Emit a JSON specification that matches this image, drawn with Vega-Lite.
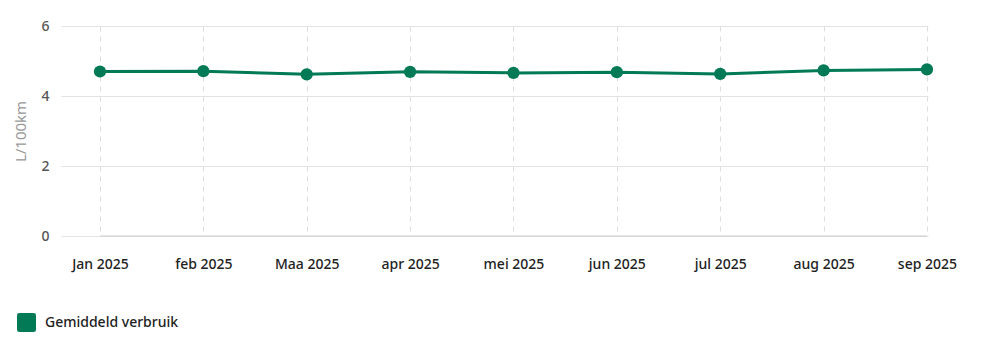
{
  "$schema": "https://vega.github.io/schema/vega-lite/v6.json",
  "width": 867,
  "height": 210,
  "autosize": {"type": "none"},
  "padding": {"left": 61, "top": 26, "right": 57, "bottom": 106},
  "background": "white",
  "config": {
    "view": {"stroke": null},
    "font": "Noto Sans"
  },
  "data": {
    "values": [
      {"i": 0, "maand": "Jan 2025", "verbruik": 4.70, "reeks": "Gemiddeld verbruik"},
      {"i": 1, "maand": "feb 2025", "verbruik": 4.71, "reeks": "Gemiddeld verbruik"},
      {"i": 2, "maand": "Maa 2025", "verbruik": 4.62, "reeks": "Gemiddeld verbruik"},
      {"i": 3, "maand": "apr 2025", "verbruik": 4.69, "reeks": "Gemiddeld verbruik"},
      {"i": 4, "maand": "mei 2025", "verbruik": 4.66, "reeks": "Gemiddeld verbruik"},
      {"i": 5, "maand": "jun 2025", "verbruik": 4.68, "reeks": "Gemiddeld verbruik"},
      {"i": 6, "maand": "jul 2025", "verbruik": 4.63, "reeks": "Gemiddeld verbruik"},
      {"i": 7, "maand": "aug 2025", "verbruik": 4.73, "reeks": "Gemiddeld verbruik"},
      {"i": 8, "maand": "sep 2025", "verbruik": 4.76, "reeks": "Gemiddeld verbruik"}
    ]
  },
  "encoding": {
    "x": {
      "field": "i",
      "type": "quantitative",
      "scale": {"domain": [-0.377, 8.01], "nice": false, "zero": false},
      "axis": {
        "title": null,
        "values": [0, 1, 2, 3, 4, 5, 6, 7, 8],
        "labelExpr": "['Jan 2025','feb 2025','Maa 2025','apr 2025','mei 2025','jun 2025','jul 2025','aug 2025','sep 2025'][datum.value]",
        "domain": false,
        "ticks": false,
        "grid": true,
        "gridColor": "#dddddd",
        "gridDash": [5, 5],
        "gridWidth": 1,
        "labelPadding": 21,
        "labelFontSize": 14,
        "labelFontWeight": 500,
        "labelColor": "#222222",
        "labelFlush": false,
        "labelOverlap": false
      }
    },
    "y": {
      "field": "verbruik",
      "type": "quantitative",
      "scale": {"domain": [0, 6], "nice": false},
      "axis": {
        "title": "L/100km",
        "titleColor": "#999999",
        "titleFontWeight": "normal",
        "titleFontSize": 15,
        "titlePadding": 12,
        "values": [0, 2, 4, 6],
        "domain": false,
        "ticks": false,
        "grid": true,
        "gridColor": "#e3e3e3",
        "gridWidth": 1,
        "labelPadding": 12,
        "labelFontSize": 14,
        "labelFontWeight": 500,
        "labelColor": "#555555"
      }
    },
    "color": {
      "field": "reeks",
      "type": "nominal",
      "scale": {"range": ["#017a55"]},
      "legend": {
        "title": null,
        "orient": "none",
        "legendX": -44,
        "legendY": 287,
        "padding": 0,
        "symbolType": "M-0.75,-1H0.75Q1,-1 1,-0.75V0.75Q1,1 0.75,1H-0.75Q-1,1 -1,0.75V-0.75Q-1,-1 -0.75,-1Z",
        "symbolSize": 361,
        "symbolStrokeWidth": 0,
        "symbolOpacity": 1,
        "labelFontSize": 14,
        "labelFontWeight": 500,
        "labelColor": "#222222",
        "labelOffset": 9,
        "symbolOffset": 0
      }
    }
  },
  "layer": [
    {
      "data": {"values": [{"a": 0, "b": 8, "y": 0}]},
      "mark": {"type": "rule", "color": "#cccccc", "strokeWidth": 1},
      "encoding": {
        "x": {"field": "a", "type": "quantitative"},
        "x2": {"field": "b"},
        "y": {"field": "y", "type": "quantitative"},
        "color": null
      }
    },
    {
      "mark": {"type": "line", "strokeWidth": 3}
    },
    {
      "mark": {"type": "point", "filled": true, "size": 150, "opacity": 1}
    }
  ]
}
